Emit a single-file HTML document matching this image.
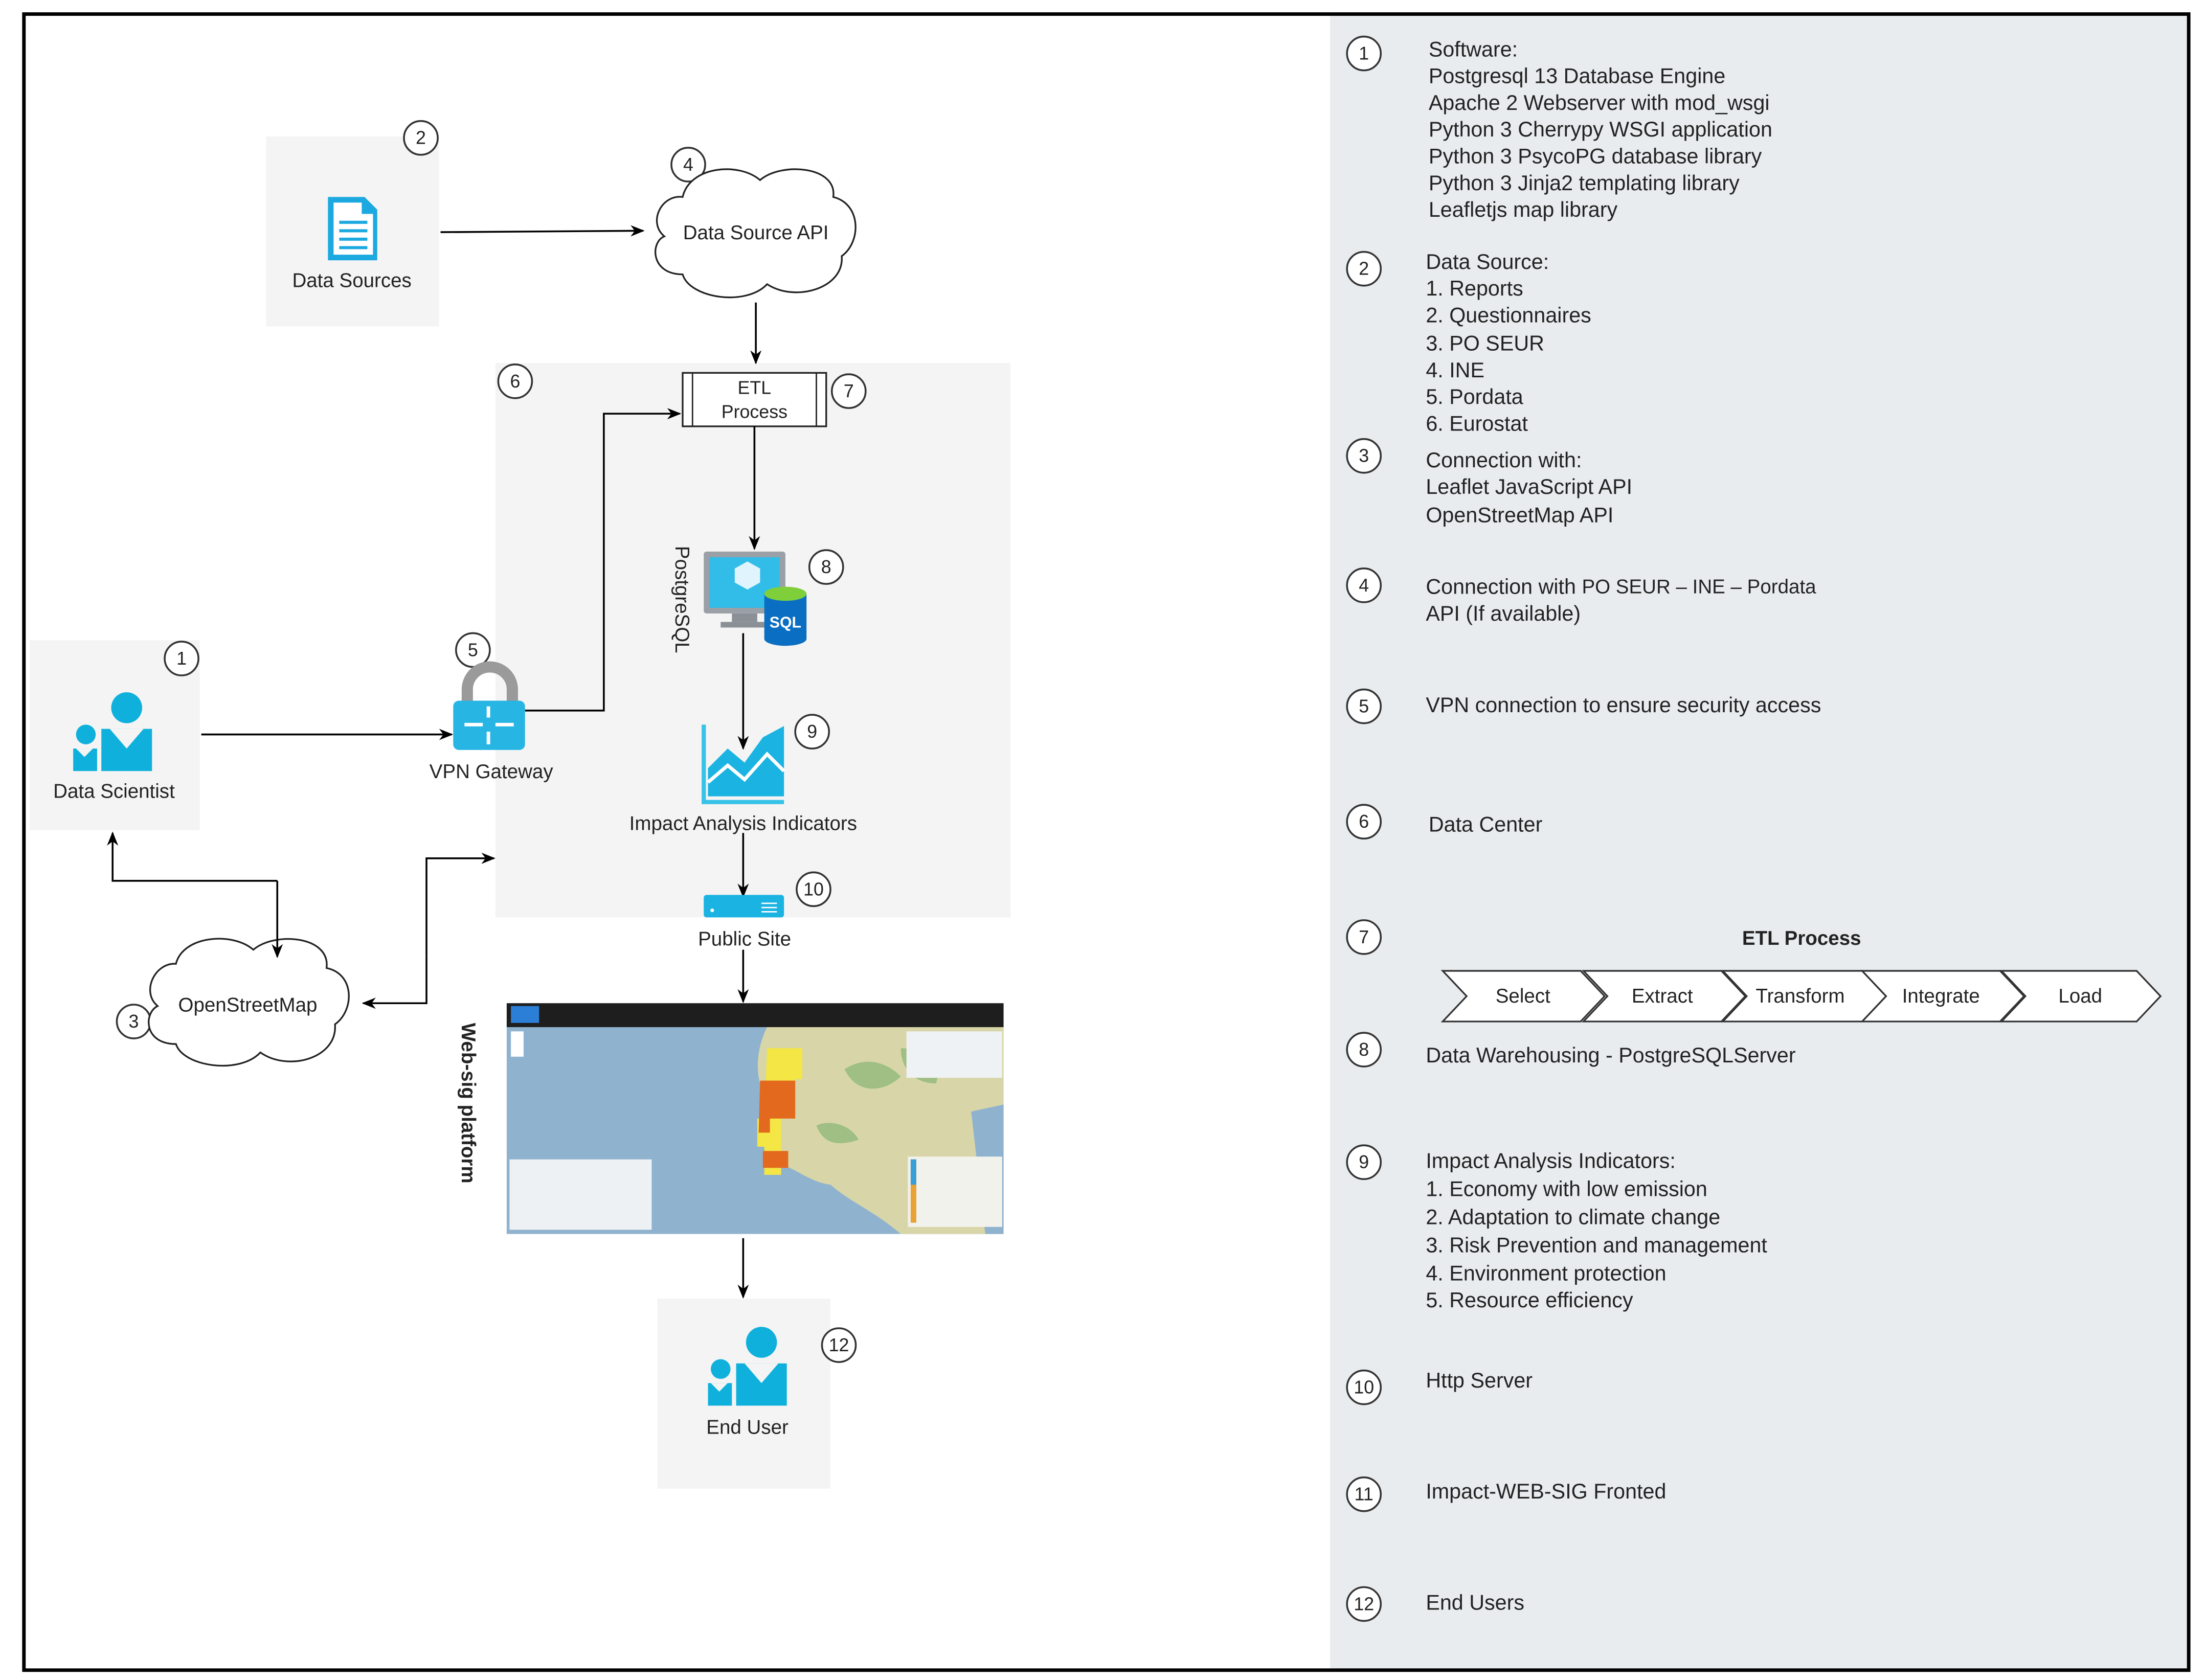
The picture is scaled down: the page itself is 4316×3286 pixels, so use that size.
<!DOCTYPE html>
<html><head><meta charset="utf-8"><style>
html,body{margin:0;padding:0;background:#fff;}
svg{display:block;}
text{font-family:"Liberation Sans",Arial,sans-serif;fill:#222;}
</style></head><body>
<svg width="4316" height="3286" viewBox="0 0 1568 1194" preserveAspectRatio="none" xmlns="http://www.w3.org/2000/svg">
<defs>
<marker id="ar" markerWidth="10" markerHeight="10" refX="9" refY="5" orient="auto" markerUnits="userSpaceOnUse">
<path d="M0,1 L10,5 L0,9 L3,5 Z" fill="#000"/></marker>
</defs>
<rect x="0" y="0" width="1568" height="1194" fill="#fff"/>
<!-- right panel -->
<rect x="945" y="10" width="610" height="1177" fill="#e8ecee"/>
<rect x="17" y="10" width="1538" height="1177" fill="none" stroke="#000" stroke-width="2.5"/>

<!-- boxes -->
<rect x="189" y="97" width="123" height="135" fill="#f4f4f4"/>
<rect x="352" y="258" width="366" height="394" fill="#f4f4f4"/>
<rect x="21" y="455" width="121" height="135" fill="#f4f4f4"/>
<rect x="467" y="923" width="123" height="135" fill="#f4f4f4"/>

<g fill="#fff" stroke="#333" stroke-width="1.3">
<circle cx="299" cy="98" r="12"/><circle cx="489" cy="117" r="12"/><circle cx="366" cy="271" r="12"/>
<circle cx="603" cy="278" r="12"/><circle cx="587" cy="403" r="12"/><circle cx="129" cy="468" r="12"/>
<circle cx="336" cy="462" r="12"/><circle cx="577" cy="520" r="12"/><circle cx="578" cy="632" r="12"/>
<circle cx="95" cy="726" r="12"/><circle cx="596" cy="956" r="12"/>
</g>
<g font-size="13" text-anchor="middle" dominant-baseline="central">
<text x="299" y="98">2</text><text x="489" y="117">4</text><text x="366" y="271">6</text>
<text x="603" y="278">7</text><text x="587" y="403">8</text><text x="129" y="468">1</text>
<text x="336" y="462">5</text><text x="577" y="520">9</text><text x="578" y="632">10</text>
<text x="95" y="726">3</text><text x="596" y="956">12</text>
</g>

<!-- doc icon -->
<path d="M233,140 h26 l9,9 v36 h-35 z" fill="#1ba9e0"/>
<path d="M237,144 h20 v8 h8 v29 h-28 z" fill="#fff"/>
<g stroke="#1ba9e0" stroke-width="2.2"><line x1="241" y1="158" x2="261" y2="158"/><line x1="241" y1="164" x2="261" y2="164"/><line x1="241" y1="170" x2="261" y2="170"/><line x1="241" y1="176" x2="261" y2="176"/></g>
<text x="250" y="204" font-size="14" text-anchor="middle">Data Sources</text>

<!-- cloud API -->
<path d="M485,140 C490,118 525,115 540,128 C555,115 595,118 592,140 C612,145 612,172 598,182 C600,205 565,215 545,202 C530,218 490,212 485,195 C462,195 462,172 472,168 C460,158 470,138 485,140 Z" fill="#fff" stroke="#222" stroke-width="1.2"/>
<text x="537" y="170" font-size="14" text-anchor="middle">Data Source API</text>

<!-- cloud OSM -->
<path d="M125,685 C130,665 165,662 180,675 C195,662 235,665 232,688 C252,692 252,718 238,728 C240,752 205,762 185,748 C170,764 130,758 125,742 C102,742 102,720 112,715 C100,705 110,684 125,685 Z" fill="#fff" stroke="#222" stroke-width="1.2"/>
<text x="176" y="719" font-size="14" text-anchor="middle">OpenStreetMap</text>

<!-- ETL box -->
<rect x="485" y="265" width="102" height="38" fill="#fff" stroke="#222" stroke-width="1.2"/>
<line x1="492" y1="265" x2="492" y2="303" stroke="#222"/><line x1="580" y1="265" x2="580" y2="303" stroke="#222"/>
<text x="536" y="280" font-size="13" text-anchor="middle">ETL</text>
<text x="536" y="297" font-size="13" text-anchor="middle">Process</text>

<!-- arrows -->
<g stroke="#000" stroke-width="1.3" fill="none" marker-end="url(#ar)">
<line x1="313" y1="165" x2="457" y2="164"/>
<line x1="537" y1="215" x2="537" y2="258"/>
<line x1="536" y1="303" x2="536" y2="390"/>
<line x1="528" y1="450" x2="528" y2="532"/>
<line x1="528" y1="592" x2="528" y2="637"/>
<line x1="528" y1="675" x2="528" y2="712"/>
<line x1="528" y1="880" x2="528" y2="922"/>
<line x1="143" y1="522" x2="321" y2="522"/>
<polyline points="373,505 429,505 429,294 483,294"/>
<polyline points="197,626 80,626 80,592"/>
<polyline points="197,626 197,680"/>
<polyline points="303,680 303,610 351,610"/>
<polyline points="303,680 303,713 258,713"/>
</g>

<!-- DB icon -->
<text transform="translate(480,388) rotate(90)" font-size="14">PostgreSQL</text>
<rect x="500" y="392" width="58" height="44" rx="2" fill="#9aa0a6"/>
<rect x="504" y="396" width="50" height="36" fill="#32bde8"/>
<path d="M522,404 l9,-5 l9,5 v10 l-9,5 l-9,-5 z" fill="#dff4fc"/>
<rect x="520" y="436" width="18" height="6" fill="#8a9096"/>
<rect x="512" y="442" width="34" height="4" fill="#8a9096"/>
<ellipse cx="558" cy="422" rx="15" ry="5" fill="#7fcf3a"/>
<path d="M543,422 v32 a15,5 0 0 0 30,0 v-32 a15,5 0 0 1 -30,0z" fill="#0a6fc2"/>
<text x="558" y="446" font-size="11" font-weight="bold" text-anchor="middle" style="fill:#fff">SQL</text>

<!-- chart icon -->
<path d="M500,515 v55 h57" fill="none" stroke="#37c2e8" stroke-width="3"/>
<path d="M503,566 v-20 l14,-14 l12,10 l13,-18 l15,-8 v50 z" fill="#1ab3e2"/>
<path d="M503,556 l14,-12 l12,10 l16,-18 l12,12" fill="none" stroke="#fff" stroke-width="2.5"/>
<text x="528" y="590" font-size="14" text-anchor="middle">Impact Analysis Indicators</text>

<!-- server -->
<rect x="500" y="636" width="57" height="16" rx="2" fill="#1ab3e2"/>
<circle cx="506" cy="647" r="1.3" fill="#fff"/>
<g stroke="#fff"><line x1="541" y1="642" x2="552" y2="642"/><line x1="541" y1="645" x2="552" y2="645"/><line x1="541" y1="648" x2="552" y2="648"/></g>
<text x="529" y="672" font-size="14" text-anchor="middle">Public Site</text>

<!-- VPN -->
<path d="M332,500 v-10 a16,16 0 0 1 32,0 v10" fill="none" stroke="#9a9a9a" stroke-width="8"/>
<rect x="322" y="498" width="51" height="35" rx="4" fill="#27b5e3"/>
<g stroke="#fff" stroke-width="2.5"><line x1="330" y1="515" x2="343" y2="515"/><line x1="352" y1="515" x2="365" y2="515"/><line x1="347" y1="502" x2="347" y2="510"/><line x1="347" y1="520" x2="347" y2="529"/></g>
<text x="349" y="553" font-size="14" text-anchor="middle">VPN Gateway</text>

<!-- persons -->
<g fill="#0fb1dc">
<circle cx="90" cy="503" r="11"/><path d="M72,518 h36 v30 h-36 z"/>
<circle cx="61" cy="522" r="7"/><path d="M52,532 h17 v16 h-17 z"/>
<circle cx="541" cy="954" r="11"/><path d="M523,969 h36 v30 h-36 z"/>
<circle cx="512" cy="973" r="7"/><path d="M503,983 h17 v16 h-17 z"/>
</g>
<g fill="#f4f4f4"><path d="M78,518 l12,14 l12,-14 z"/><path d="M54,532 l6,6 l6,-6z"/><path d="M529,969 l12,14 l12,-14 z"/><path d="M505,983 l6,6 l6,-6z"/></g>
<text x="81" y="567" font-size="14" text-anchor="middle">Data Scientist</text>
<text x="531" y="1019" font-size="14" text-anchor="middle">End User</text>

<!-- map -->
<rect x="360" y="713" width="353" height="164" fill="#8fb2cf"/>
<path d="M545,730 L713,730 L713,877 L640,877 C620,860 605,855 590,842 C575,840 565,830 555,828 C548,810 545,790 540,770 C536,755 540,740 545,730 Z" fill="#d8d6a8"/>
<path d="M600,760 c15,-10 30,-5 40,5 c-10,10 -30,15 -40,-5z M640,745 c20,0 30,10 25,25 c-15,0 -25,-10 -25,-25z M580,800 c10,-5 25,0 30,10 c-15,5 -25,3 -30,-10z" fill="#9fbf84"/>
<path d="M690,790 L713,785 L713,877 L700,877 Z" fill="#8fb2cf"/>
<path d="M545,745 h25 v22 h-5 v28 h-10 v40 h-12 v-20 h-5 v-20 h5 z" fill="#f3e645"/>
<path d="M540,768 h25 v27 h-18 v10 h-8 z" fill="#e2691e"/>
<path d="M542,818 h18 v12 h-18 z" fill="#e2691e"/>
<rect x="360" y="713" width="353" height="17" fill="#1e1e1e"/>
<rect x="363" y="715" width="20" height="12" fill="#2c7fd6"/>
<rect x="644" y="733" width="68" height="33" fill="#eef2f4"/>
<rect x="645" y="822" width="67" height="50" fill="#f2f2ec"/>
<rect x="647" y="824" width="4" height="45" fill="#e9a236"/>
<rect x="647" y="824" width="4" height="18" fill="#3a9fd4"/>
<rect x="362" y="824" width="101" height="50" fill="#eef1f4"/>
<rect x="363" y="733" width="9" height="18" fill="#fff"/>
<text transform="translate(328,727) rotate(90)" font-size="14" font-weight="bold">Web-sig platform</text>

<!-- right panel text -->
<g fill="#fff" stroke="#333" stroke-width="1.3">
<circle cx="969" cy="38" r="12"/><circle cx="969" cy="191" r="12"/><circle cx="969" cy="324" r="12"/>
<circle cx="969" cy="416" r="12"/><circle cx="969" cy="502" r="12"/><circle cx="969" cy="584" r="12"/>
<circle cx="969" cy="666" r="12"/><circle cx="969" cy="746" r="12"/><circle cx="969" cy="826" r="12"/>
<circle cx="969" cy="986" r="12"/><circle cx="969" cy="1062" r="12"/><circle cx="969" cy="1140" r="12"/>
</g>
<g font-size="13" text-anchor="middle" dominant-baseline="central">
<text x="969" y="38">1</text><text x="969" y="191">2</text><text x="969" y="324">3</text>
<text x="969" y="416">4</text><text x="969" y="502">5</text><text x="969" y="584">6</text>
<text x="969" y="666">7</text><text x="969" y="746">8</text><text x="969" y="826">9</text>
<text x="969" y="986">10</text><text x="969" y="1062">11</text><text x="969" y="1140">12</text>
</g>
<g font-size="15" dominant-baseline="central">
<text x="1015" y="35">Software:</text>
<text x="1015" y="54">Postgresql 13 Database Engine</text>
<text x="1015" y="73">Apache 2 Webserver with mod_wsgi</text>
<text x="1015" y="92">Python 3 Cherrypy WSGI application</text>
<text x="1015" y="111">Python 3 PsycoPG database library</text>
<text x="1015" y="130">Python 3 Jinja2 templating library</text>
<text x="1015" y="149">Leafletjs map library</text>
<text x="1013" y="186">Data Source:</text>
<text x="1013" y="205">1. Reports</text>
<text x="1013" y="224">2. Questionnaires</text>
<text x="1013" y="244">3. PO SEUR</text>
<text x="1013" y="263">4. INE</text>
<text x="1013" y="282">5. Pordata</text>
<text x="1013" y="301">6. Eurostat</text>
<text x="1013" y="327">Connection with:</text>
<text x="1013" y="346">Leaflet JavaScript API</text>
<text x="1013" y="366">OpenStreetMap API</text>
<text x="1013" y="417">Connection with <tspan font-size="14">PO SEUR – INE – Pordata</tspan></text>
<text x="1013" y="436">API (If available)</text>
<text x="1013" y="501">VPN connection to ensure security access</text>
<text x="1015" y="586">Data Center</text>
<text x="1013" y="750">Data Warehousing - PostgreSQLServer</text>
<text x="1013" y="825">Impact Analysis Indicators:</text>
<text x="1013" y="845">1. Economy with low emission</text>
<text x="1013" y="865">2. Adaptation to climate change</text>
<text x="1013" y="885">3. Risk Prevention and management</text>
<text x="1013" y="905">4. Environment protection</text>
<text x="1013" y="924">5. Resource efficiency</text>
<text x="1013" y="981">Http Server</text>
<text x="1013" y="1060">Impact-WEB-SIG Fronted</text>
<text x="1013" y="1139">End Users</text>
</g>
<text x="1280" y="667" font-size="14" font-weight="bold" text-anchor="middle" dominant-baseline="central">ETL Process</text>
<g fill="#fff" stroke="#333" stroke-width="1.2">
<path d="M1025,690 h98 l17,18 l-17,18 h-98 l17,-18 z"/>
<path d="M1125,690 h98 l17,18 l-17,18 h-98 l17,-18 z"/>
<path d="M1224,690 h99 l17,18 l-17,18 h-99 l17,-18 z"/>
<path d="M1323,690 h98 l17,18 l-17,18 h-98 l17,-18 z"/>
<path d="M1422,690 h96 l17,18 l-17,18 h-96 l17,-18 z"/>
</g>
<g font-size="14" text-anchor="middle" dominant-baseline="central">
<text x="1082" y="708">Select</text><text x="1181" y="708">Extract</text><text x="1279" y="708">Transform</text>
<text x="1379" y="708">Integrate</text><text x="1478" y="708">Load</text>
</g>
</svg>
</body></html>
